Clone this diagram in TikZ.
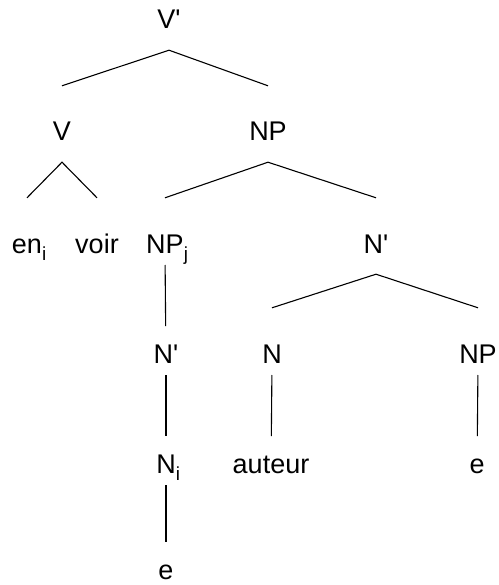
\documentclass[tikz,border=0pt]{standalone}
\usepackage{fontspec}
\setmainfont{Liberation Sans}
\newcommand{\idx}[1]{\rlap{\raisebox{-2pt}{\textsubscript{#1}}}}
\newcommand{\barlvl}{\textquotesingle}

\begin{document}
\begin{tikzpicture}[
    x=1pt, y=-1pt,
    font=\fontsize{27}{30}\selectfont,
    lbl/.style={anchor=base, inner sep=0pt, text height=55pt, text depth=21pt},
    branch/.style={line width=1.1pt},
    stem/.style={line width=1.1pt, shorten <=12pt, shorten >=37pt},
  ]
    \useasboundingbox (0,0) rectangle (498,585);

    % top
    \node[lbl] (vbar) at (169,29) {V\barlvl};
    \node[lbl] (v)    at (62,141) {V};
    \node[lbl] (np)   at (268,141) {NP};

    % third row
    \node[lbl] (en)   at (27,253) {en\idx{i}};
    \node[lbl] (voir) at (97,253) {voir};
    \node[lbl] (npj)  at (165,253) {NP\idx{j}};
    \node[lbl] (nbar) at (376,253) {N\barlvl};

    % fourth row
    \node[lbl] (nbarj) at (166,363) {N\barlvl};
    \node[lbl] (n)     at (272,363) {N};
    \node[lbl] (npe)   at (478,363) {NP};

    % fifth row
    \node[lbl] (ni)     at (166,473) {N\idx{i}};
    \node[lbl] (auteur) at (271,473) {auteur};
    \node[lbl] (e)      at (477,473) {e};
    \node[lbl, text depth=0pt] (ei) at (166,579) {e};

    % branches
    \draw[branch] (v.north) -- (vbar.south) -- (np.north);
    \draw[branch] (en.north) -- (v.south) -- (voir.north);
    \draw[branch] (npj.north) -- (np.south) -- (nbar.north);
    \draw[branch] (n.north) -- (nbar.south) -- (npe.north);

    % unary stems
    \draw[stem] (npj.base) -- (nbarj.base);
    \draw[stem] (nbarj.base) -- (ni.base);
    \draw[stem] (ni.base) -- (ei.base);
    \draw[stem] (n.base) -- (auteur.base);
    \draw[stem] (npe.base) -- (e.base);
  \end{tikzpicture}
\end{document}
